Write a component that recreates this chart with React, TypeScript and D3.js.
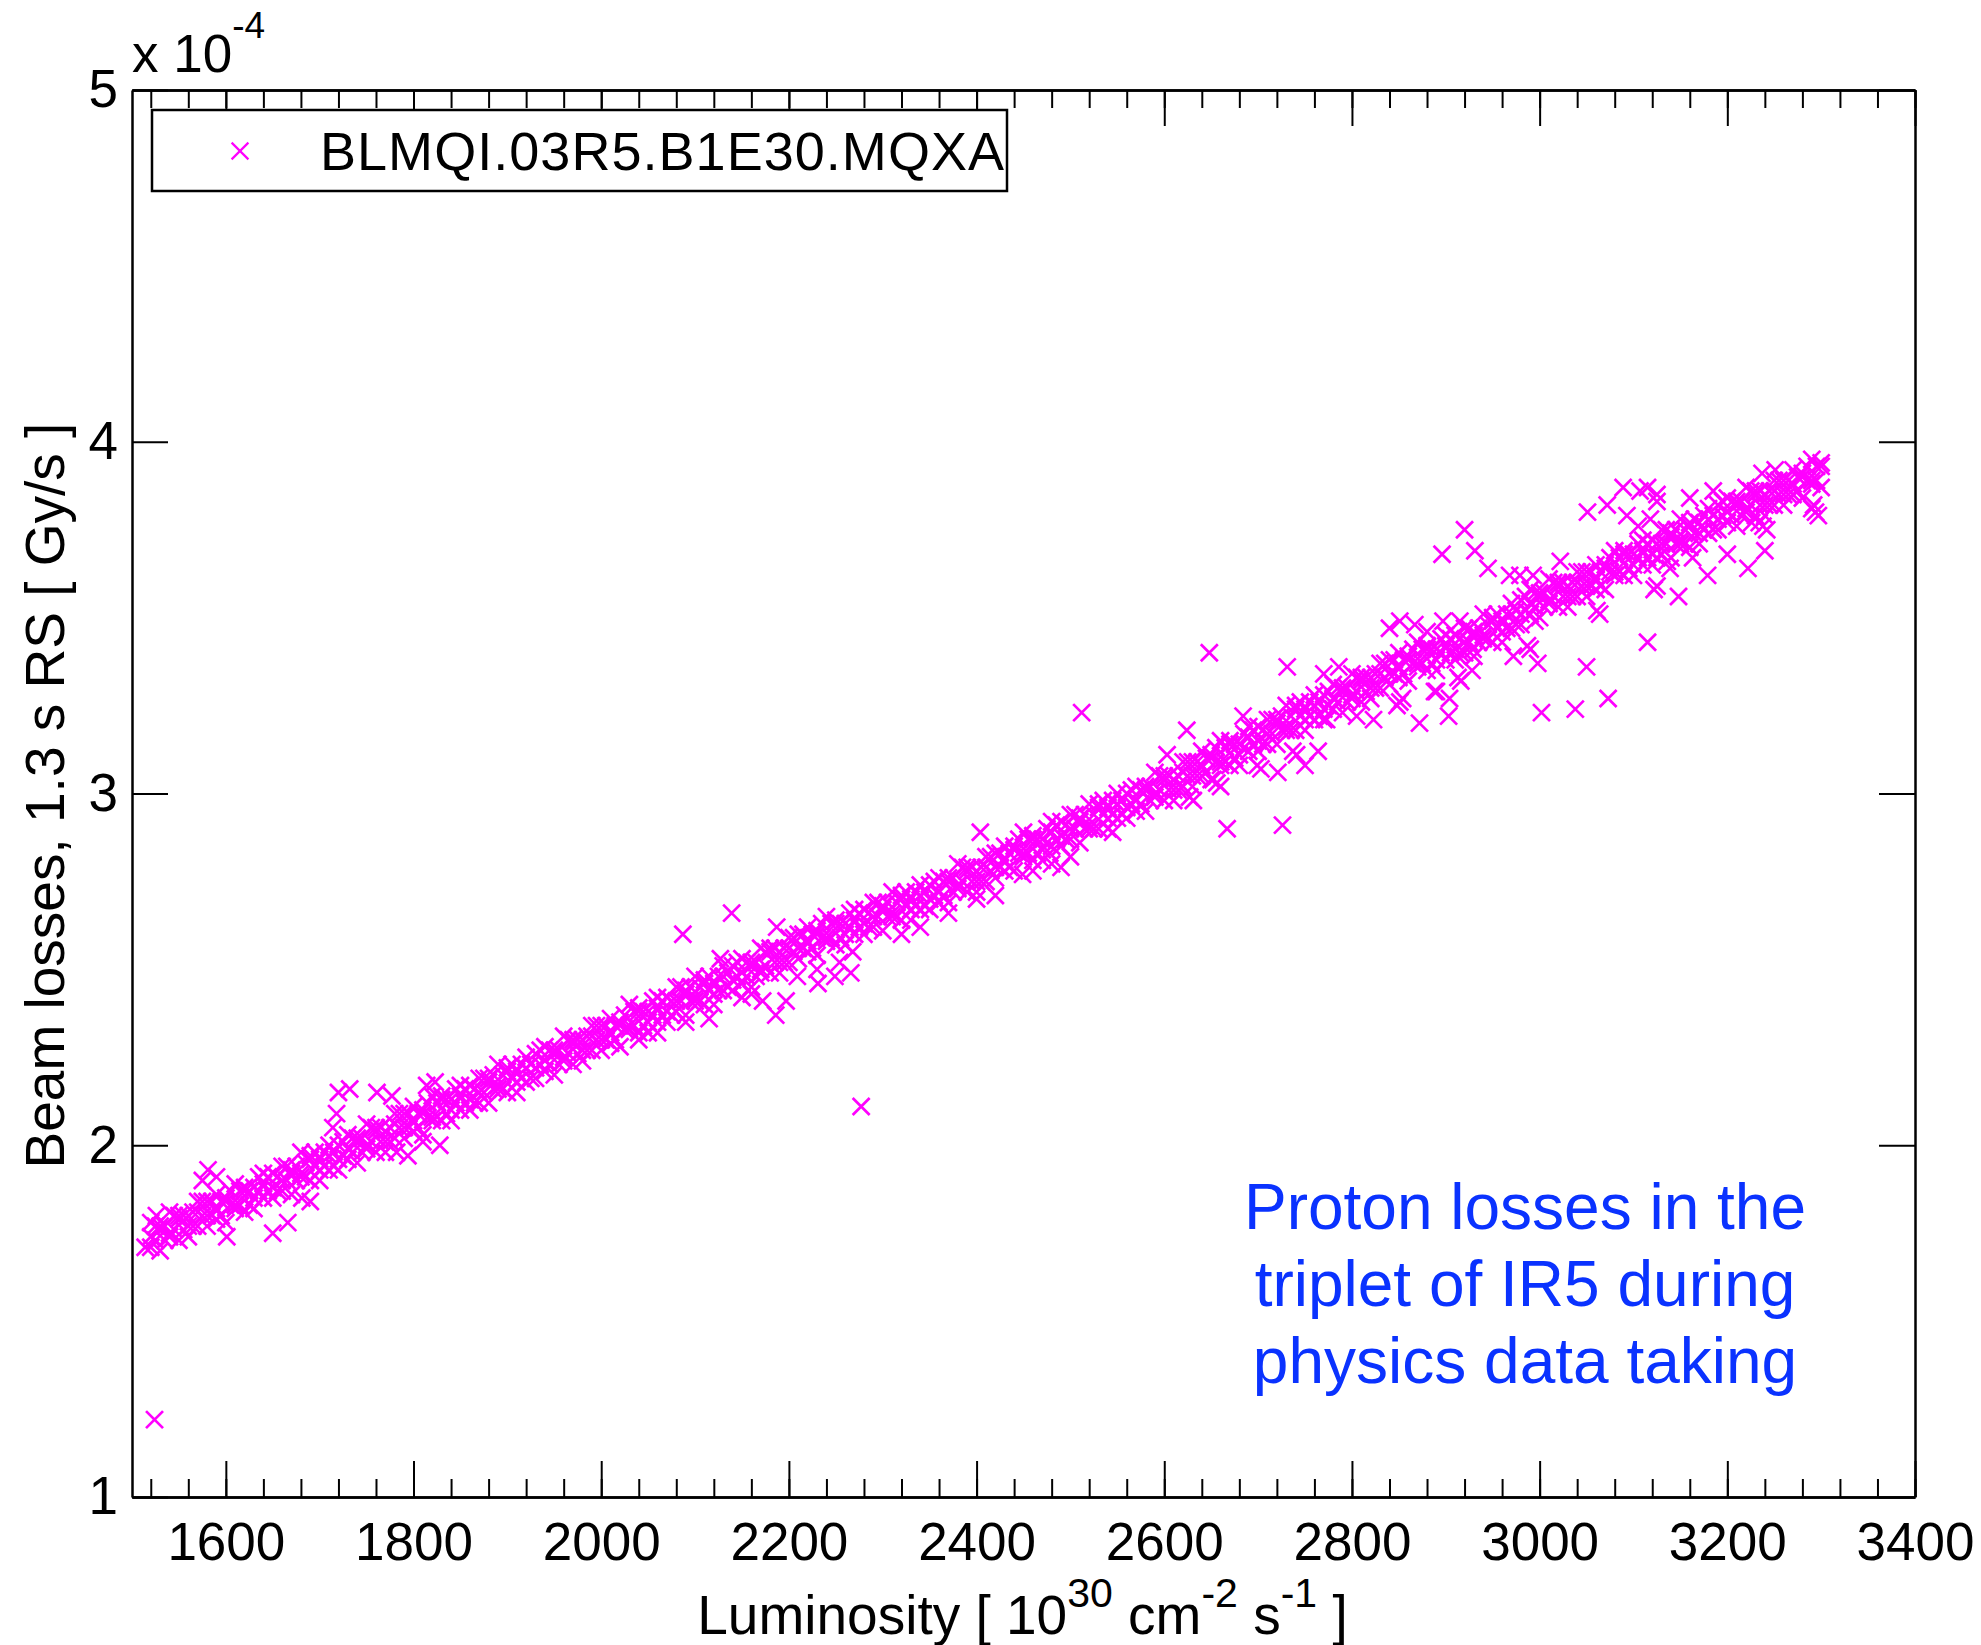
import React, { useEffect, useRef } from "react";
import * as d3 from "d3";

// luminosity axis (10^30 cm^-2 s^-1) and loss axis (x 10^-4 Gy/s)
const xTicks = [1600, 1800, 2000, 2200, 2400, 2600, 2800, 3000, 3200, 3400];
const yTicks = [1, 2, 3, 4, 5];
const seriesName = "BLMQI.03R5.B1E30.MQXA";
const noteLines = ["Proton losses in the", "triplet of IR5 during", "physics data taking"];

// dense band: [luminosity, upper edge, middle, lower edge]
const bandRows: [number, number, number, number][] = [
  [1520, 1.78, 1.74, 1.71], [1530, 1.77, 1.76, 1.70], [1540, 1.81, 1.75, 1.74], [1550, 1.80, 1.79, 1.73],
  [1560, 1.80, 1.77, 1.74], [1570, 1.84, 1.81, 1.77], [1580, 1.84, 1.80, 1.77], [1590, 1.86, 1.82, 1.79],
  [1600, 1.85, 1.84, 1.78], [1610, 1.89, 1.83, 1.82], [1620, 1.88, 1.87, 1.81], [1630, 1.88, 1.85, 1.82],
  [1640, 1.92, 1.89, 1.85], [1650, 1.92, 1.88, 1.85], [1660, 1.94, 1.90, 1.87], [1670, 1.93, 1.92, 1.86],
  [1680, 1.98, 1.92, 1.91], [1690, 1.97, 1.96, 1.90], [1700, 1.96, 1.93, 1.90], [1710, 2.00, 1.97, 1.93],
  [1720, 2.00, 1.96, 1.93], [1730, 2.03, 1.99, 1.96], [1740, 2.02, 2.01, 1.95], [1750, 2.06, 2.00, 1.99],
  [1760, 2.05, 2.04, 1.98], [1770, 2.04, 2.01, 1.98], [1780, 2.09, 2.06, 2.02], [1790, 2.09, 2.05, 2.02],
  [1800, 2.11, 2.07, 2.04], [1810, 2.10, 2.09, 2.03], [1820, 2.14, 2.08, 2.07], [1830, 2.14, 2.13, 2.07],
  [1840, 2.13, 2.10, 2.07], [1850, 2.17, 2.14, 2.10], [1860, 2.17, 2.13, 2.10], [1870, 2.19, 2.15, 2.12],
  [1880, 2.19, 2.18, 2.12], [1890, 2.23, 2.17, 2.16], [1900, 2.22, 2.21, 2.15], [1910, 2.21, 2.18, 2.15],
  [1920, 2.25, 2.22, 2.18], [1930, 2.26, 2.22, 2.19], [1940, 2.28, 2.24, 2.21], [1950, 2.27, 2.26, 2.20],
  [1960, 2.31, 2.25, 2.24], [1970, 2.30, 2.29, 2.23], [1980, 2.30, 2.27, 2.24], [1990, 2.34, 2.31, 2.27],
  [2000, 2.34, 2.30, 2.27], [2010, 2.36, 2.32, 2.29], [2020, 2.35, 2.34, 2.28], [2030, 2.40, 2.34, 2.33],
  [2040, 2.39, 2.38, 2.32], [2050, 2.38, 2.35, 2.32], [2060, 2.42, 2.39, 2.35], [2070, 2.42, 2.38, 2.35],
  [2080, 2.45, 2.41, 2.38], [2090, 2.44, 2.43, 2.37], [2100, 2.48, 2.42, 2.41], [2110, 2.47, 2.46, 2.40],
  [2120, 2.46, 2.43, 2.40], [2130, 2.51, 2.48, 2.44], [2140, 2.51, 2.47, 2.44], [2150, 2.53, 2.49, 2.46],
  [2160, 2.52, 2.51, 2.45], [2170, 2.56, 2.50, 2.49], [2180, 2.56, 2.55, 2.49], [2190, 2.55, 2.52, 2.49],
  [2200, 2.59, 2.56, 2.52], [2210, 2.60, 2.56, 2.53], [2220, 2.62, 2.58, 2.55], [2230, 2.61, 2.60, 2.54],
  [2240, 2.65, 2.59, 2.58], [2250, 2.64, 2.63, 2.57], [2260, 2.63, 2.60, 2.57], [2270, 2.67, 2.64, 2.60],
  [2280, 2.67, 2.63, 2.60], [2290, 2.69, 2.65, 2.62], [2300, 2.68, 2.67, 2.61], [2310, 2.72, 2.66, 2.65],
  [2320, 2.71, 2.70, 2.64], [2330, 2.70, 2.67, 2.64], [2340, 2.74, 2.71, 2.67], [2350, 2.74, 2.70, 2.67],
  [2360, 2.76, 2.72, 2.69], [2370, 2.76, 2.75, 2.69], [2380, 2.80, 2.74, 2.73], [2390, 2.79, 2.78, 2.72],
  [2400, 2.78, 2.75, 2.72], [2410, 2.82, 2.79, 2.75], [2420, 2.83, 2.79, 2.76], [2430, 2.85, 2.81, 2.78],
  [2440, 2.85, 2.84, 2.78], [2450, 2.89, 2.83, 2.82], [2460, 2.88, 2.87, 2.81], [2470, 2.87, 2.84, 2.81],
  [2480, 2.92, 2.89, 2.85], [2490, 2.92, 2.88, 2.85], [2500, 2.94, 2.90, 2.87], [2510, 2.93, 2.92, 2.86],
  [2520, 2.97, 2.91, 2.90], [2530, 2.97, 2.96, 2.90], [2540, 2.96, 2.93, 2.90], [2550, 3.00, 2.97, 2.93],
  [2560, 3.00, 2.96, 2.93], [2570, 3.02, 2.98, 2.95], [2580, 3.02, 3.01, 2.95], [2590, 3.06, 3.00, 2.99],
  [2600, 3.05, 3.04, 2.98], [2610, 3.04, 3.01, 2.98], [2620, 3.09, 3.06, 3.02], [2630, 3.09, 3.05, 3.02],
  [2640, 3.12, 3.08, 3.05], [2650, 3.11, 3.10, 3.04], [2660, 3.15, 3.09, 3.08], [2670, 3.15, 3.14, 3.08],
  [2680, 3.14, 3.11, 3.08], [2690, 3.19, 3.16, 3.12], [2700, 3.19, 3.15, 3.12], [2710, 3.21, 3.17, 3.14],
  [2720, 3.21, 3.20, 3.14], [2730, 3.25, 3.19, 3.18], [2740, 3.25, 3.24, 3.18], [2750, 3.24, 3.21, 3.18],
  [2760, 3.28, 3.25, 3.21], [2770, 3.28, 3.24, 3.21], [2780, 3.31, 3.27, 3.24], [2790, 3.30, 3.29, 3.23],
  [2800, 3.34, 3.28, 3.27], [2810, 3.33, 3.32, 3.26], [2820, 3.33, 3.30, 3.27], [2830, 3.37, 3.34, 3.30],
  [2840, 3.38, 3.34, 3.31], [2850, 3.40, 3.36, 3.33], [2860, 3.39, 3.38, 3.32], [2870, 3.43, 3.37, 3.36],
  [2880, 3.42, 3.41, 3.35], [2890, 3.41, 3.38, 3.35], [2900, 3.45, 3.42, 3.38], [2910, 3.45, 3.41, 3.38],
  [2920, 3.47, 3.43, 3.40], [2930, 3.46, 3.45, 3.39], [2940, 3.51, 3.45, 3.44], [2950, 3.50, 3.49, 3.43],
  [2960, 3.49, 3.46, 3.43], [2970, 3.54, 3.51, 3.47], [2980, 3.55, 3.51, 3.48], [2990, 3.58, 3.54, 3.51],
  [3000, 3.57, 3.56, 3.50], [3010, 3.61, 3.55, 3.54], [3020, 3.60, 3.59, 3.53], [3030, 3.59, 3.56, 3.53],
  [3040, 3.63, 3.60, 3.56], [3050, 3.63, 3.59, 3.56], [3060, 3.65, 3.61, 3.58], [3070, 3.65, 3.64, 3.58],
  [3080, 3.69, 3.63, 3.62], [3090, 3.69, 3.68, 3.62], [3100, 3.68, 3.65, 3.62], [3110, 3.72, 3.69, 3.65],
  [3120, 3.72, 3.68, 3.65], [3130, 3.75, 3.71, 3.68], [3140, 3.74, 3.73, 3.67], [3150, 3.78, 3.72, 3.71],
  [3160, 3.77, 3.76, 3.70], [3170, 3.77, 3.74, 3.71], [3180, 3.81, 3.78, 3.74], [3190, 3.82, 3.78, 3.75],
  [3200, 3.84, 3.80, 3.77], [3210, 3.83, 3.82, 3.76], [3220, 3.87, 3.81, 3.80], [3230, 3.86, 3.85, 3.79],
  [3240, 3.85, 3.82, 3.79], [3250, 3.89, 3.86, 3.82], [3260, 3.89, 3.85, 3.82], [3270, 3.92, 3.88, 3.85],
  [3280, 3.91, 3.90, 3.84], [3290, 3.95, 3.89, 3.88], [3300, 3.94, 3.93, 3.87],
];

// band readings taken between the rows above: [luminosity, upper, lower]
const bandRowsBetween: [number, number, number][] = [
  [1525, 1.77, 1.73], [1535, 1.77, 1.73], [1545, 1.80, 1.76], [1555, 1.80, 1.76], [1565, 1.81, 1.77],
  [1575, 1.84, 1.80], [1585, 1.84, 1.80], [1595, 1.84, 1.80], [1605, 1.87, 1.83], [1615, 1.87, 1.83],
  [1625, 1.87, 1.83], [1635, 1.91, 1.87], [1645, 1.91, 1.87], [1655, 1.91, 1.87], [1665, 1.94, 1.90],
  [1675, 1.94, 1.90], [1685, 1.95, 1.91], [1695, 1.98, 1.94], [1705, 1.98, 1.94], [1715, 1.98, 1.94],
  [1725, 2.01, 1.97], [1735, 2.02, 1.98], [1745, 2.02, 1.98], [1755, 2.05, 2.01], [1765, 2.05, 2.01],
  [1775, 2.05, 2.01], [1785, 2.09, 2.05], [1795, 2.09, 2.05], [1805, 2.09, 2.05], [1815, 2.12, 2.08],
  [1825, 2.12, 2.08], [1835, 2.13, 2.09], [1845, 2.16, 2.12], [1855, 2.16, 2.12], [1865, 2.16, 2.12],
  [1875, 2.19, 2.15], [1885, 2.20, 2.16], [1895, 2.20, 2.16], [1905, 2.23, 2.19], [1915, 2.23, 2.19],
  [1925, 2.23, 2.19], [1935, 2.27, 2.23], [1945, 2.27, 2.23], [1955, 2.27, 2.23], [1965, 2.30, 2.26],
  [1975, 2.30, 2.26], [1985, 2.31, 2.27], [1995, 2.34, 2.30], [2005, 2.34, 2.30], [2015, 2.34, 2.30],
  [2025, 2.37, 2.33], [2035, 2.38, 2.34], [2045, 2.38, 2.34], [2055, 2.41, 2.37], [2065, 2.41, 2.37],
  [2075, 2.41, 2.37], [2085, 2.45, 2.41], [2095, 2.45, 2.41], [2105, 2.45, 2.41], [2115, 2.48, 2.44],
  [2125, 2.48, 2.44], [2135, 2.49, 2.45], [2145, 2.52, 2.48], [2155, 2.52, 2.48], [2165, 2.52, 2.48],
  [2175, 2.55, 2.51], [2185, 2.56, 2.52], [2195, 2.56, 2.52], [2205, 2.59, 2.55], [2215, 2.60, 2.56],
  [2225, 2.60, 2.56], [2235, 2.63, 2.59], [2245, 2.63, 2.59], [2255, 2.63, 2.59], [2265, 2.66, 2.62],
  [2275, 2.66, 2.62], [2285, 2.66, 2.62], [2295, 2.69, 2.65], [2305, 2.69, 2.65], [2315, 2.69, 2.65],
  [2325, 2.72, 2.68], [2335, 2.72, 2.68], [2345, 2.72, 2.68], [2355, 2.75, 2.71], [2365, 2.75, 2.71],
  [2375, 2.76, 2.72], [2385, 2.79, 2.75], [2395, 2.79, 2.75], [2405, 2.79, 2.75], [2415, 2.82, 2.78],
  [2425, 2.83, 2.79], [2435, 2.83, 2.79], [2445, 2.87, 2.83], [2455, 2.87, 2.83], [2465, 2.87, 2.83],
  [2475, 2.90, 2.86], [2485, 2.91, 2.87], [2495, 2.91, 2.87], [2505, 2.94, 2.90], [2515, 2.94, 2.90],
  [2525, 2.94, 2.90], [2535, 2.98, 2.94], [2545, 2.98, 2.94], [2555, 2.98, 2.94], [2565, 3.01, 2.97],
  [2575, 3.01, 2.97], [2585, 3.02, 2.98], [2595, 3.05, 3.01], [2605, 3.05, 3.01], [2615, 3.05, 3.01],
  [2625, 3.09, 3.05], [2635, 3.09, 3.05], [2645, 3.10, 3.06], [2655, 3.13, 3.09], [2665, 3.13, 3.09],
  [2675, 3.14, 3.10], [2685, 3.17, 3.13], [2695, 3.18, 3.14], [2705, 3.18, 3.14], [2715, 3.21, 3.17],
  [2725, 3.22, 3.18], [2735, 3.22, 3.18], [2745, 3.26, 3.22], [2755, 3.26, 3.22], [2765, 3.26, 3.22],
  [2775, 3.29, 3.25], [2785, 3.30, 3.26], [2795, 3.30, 3.26], [2805, 3.33, 3.29], [2815, 3.33, 3.29],
  [2825, 3.34, 3.30], [2835, 3.37, 3.33], [2845, 3.38, 3.34], [2855, 3.38, 3.34], [2865, 3.41, 3.37],
  [2875, 3.41, 3.37], [2885, 3.41, 3.37], [2895, 3.44, 3.40], [2905, 3.44, 3.40], [2915, 3.44, 3.40],
  [2925, 3.47, 3.43], [2935, 3.47, 3.43], [2945, 3.48, 3.44], [2955, 3.51, 3.47], [2965, 3.51, 3.47],
  [2975, 3.52, 3.48], [2985, 3.56, 3.52], [2995, 3.57, 3.53], [3005, 3.57, 3.53], [3015, 3.60, 3.56],
  [3025, 3.60, 3.56], [3035, 3.60, 3.56], [3045, 3.63, 3.59], [3055, 3.63, 3.59], [3065, 3.63, 3.59],
  [3075, 3.67, 3.63], [3085, 3.67, 3.63], [3095, 3.68, 3.64], [3105, 3.71, 3.67], [3115, 3.71, 3.67],
  [3125, 3.71, 3.67], [3135, 3.75, 3.71], [3145, 3.75, 3.71], [3155, 3.75, 3.71], [3165, 3.78, 3.74],
  [3175, 3.79, 3.75], [3185, 3.79, 3.75], [3195, 3.83, 3.79], [3205, 3.83, 3.79], [3215, 3.83, 3.79],
  [3225, 3.86, 3.82], [3235, 3.86, 3.82], [3245, 3.86, 3.82], [3255, 3.89, 3.85], [3265, 3.89, 3.85],
  [3275, 3.90, 3.86], [3285, 3.93, 3.89], [3295, 3.93, 3.89],
];

// scattered points away from the band: [luminosity, loss]
const scatterPoints: [number, number][] = [
  [1524, 1.22], [1514, 1.71], [1526, 1.80], [1601, 1.74], [1650, 1.75], [1666, 1.78], [1690, 1.84],
  [1681, 1.85], [1581, 1.93], [1575, 1.90], [1590, 1.91], [1720, 2.15], [1732, 2.16], [1761, 2.15],
  [1777, 2.14], [1718, 2.09], [1714, 2.05], [1814, 2.17], [1823, 2.18], [1828, 2.00], [1810, 2.01],
  [1794, 1.97], [1782, 1.98],
  [2087, 2.60], [2139, 2.66], [2187, 2.62], [2404, 2.89], [2277, 2.11], [2115, 2.36], [2172, 2.41],
  [2186, 2.37], [2197, 2.41], [2209, 2.48], [2231, 2.46], [2249, 2.48], [2266, 2.49], [2268, 2.55],
  [2254, 2.52], [2127, 2.53], [2040, 2.30], [2060, 2.32], [2090, 2.35], [2150, 2.42], [2160, 2.43],
  [2230, 2.50], [2320, 2.60], [2340, 2.62], [2370, 2.66], [2400, 2.70], [2420, 2.71], [2460, 2.78],
  [2480, 2.80], [2490, 2.79], [2500, 2.82],
  [2512, 3.23], [2648, 3.40], [2624, 3.18], [2603, 3.11], [2684, 3.22], [2667, 2.90], [2726, 2.91],
  [2731, 3.36], [2770, 3.34], [2786, 3.36], [2764, 3.12], [2750, 3.08], [2721, 3.06], [2656, 3.03],
  [2660, 3.02], [2652, 3.04], [2699, 3.08], [2703, 3.07], [2737, 3.12], [2741, 3.11], [2773, 3.21],
  [2805, 3.22], [2823, 3.21], [2872, 3.20], [2903, 3.22], [2890, 3.29], [2854, 3.27], [2545, 2.89],
  [2627, 2.99], [2631, 2.98], [2449, 2.77], [2478, 2.83],
  [2920, 3.75], [2896, 3.68], [2931, 3.69], [2945, 3.64], [2968, 3.62], [2979, 3.62], [2993, 3.62],
  [3022, 3.66], [3051, 3.80], [3072, 3.82], [3089, 3.87], [3107, 3.86], [3115, 3.87], [3125, 3.85],
  [3093, 3.79], [3118, 3.78], [3125, 3.83], [3105, 3.76], [3160, 3.84], [3185, 3.86], [3237, 3.91],
  [3251, 3.92], [3226, 3.77], [3238, 3.76], [3242, 3.75], [3234, 3.77], [3290, 3.81], [3294, 3.80],
  [3297, 3.79], [3292, 3.82], [3240, 3.69], [3222, 3.64], [3200, 3.68], [3179, 3.62], [3163, 3.67],
  [3139, 3.64], [3136, 3.66], [3148, 3.56], [3122, 3.58], [3125, 3.59], [3115, 3.43], [3073, 3.27],
  [3038, 3.24], [3002, 3.23], [3050, 3.36], [3061, 3.52], [3064, 3.51], [2998, 3.37], [2972, 3.39],
  [2987, 3.42], [2990, 3.41], [2995, 3.49], [2888, 3.29], [2904, 3.27], [2913, 3.33], [2916, 3.32],
  [2928, 3.35], [2851, 3.26], [2848, 3.25], [2840, 3.47], [2851, 3.49], [2867, 3.48], [2880, 3.46],
  [2897, 3.49], [2915, 3.49], [2929, 3.41], [2913, 3.39],
];

const FONT = "'Liberation Sans', Arial, Helvetica, sans-serif";
const MAGENTA = "#ff00ff";
const BLUE = "#0a32ff";

function crossPath(cx: number, cy: number, h: number) {
  return `M${cx - h},${cy - h}L${cx + h},${cy + h}M${cx - h},${cy + h}L${cx + h},${cy - h}`;
}

function BeamLossPlot() {
  const svgRef = useRef<SVGSVGElement>(null);

  useEffect(() => {
    const width = 1981;
    const height = 1645;
    const left = 132;
    const right = 1915;
    const top = 90;
    const bottom = 1497;

    const svg = d3.select(svgRef.current).attr("width", width).attr("height", height);
    svg.selectAll("*").remove();

    const x = d3.scaleLinear().domain([1500, 3400]).range([left, right]);
    const y = d3.scaleLinear().domain([1, 5]).range([bottom, top]);

    const points: [number, number][] = bandRows
      .flatMap(([l, a, b, c]) => [[l, a], [l, b], [l, c]] as [number, number][])
      .concat(bandRowsBetween.flatMap(([l, a, b]) => [[l, a], [l, b]] as [number, number][]))
      .concat(scatterPoints);

    // data
    svg
      .append("g")
      .selectAll("path")
      .data(points)
      .join("path")
      .attr("d", (d) => crossPath(x(d[0]), y(d[1]), 8.5))
      .attr("fill", "none")
      .attr("stroke", MAGENTA)
      .attr("stroke-width", 2.7);

    const minor = d3.range(1520, 3401, 40);

    const styleAxis = (g: any) => {
      g.selectAll("line").attr("stroke", "#000").attr("stroke-width", 2);
      g.selectAll("path").attr("stroke", "#000").attr("stroke-width", 2.5);
      g.selectAll("text")
        .attr("fill", "#000")
        .style("font-family", FONT)
        .style("font-size", "53px");
    };

    // bottom
    svg
      .append("g")
      .attr("transform", `translate(0,${bottom})`)
      .call(d3.axisBottom(x).tickValues(minor).tickSizeInner(-18).tickSizeOuter(0).tickFormat(() => ""))
      .call(styleAxis);
    svg
      .append("g")
      .attr("transform", `translate(0,${bottom})`)
      .call(
        d3.axisBottom(x).tickValues(xTicks).tickSizeInner(-36).tickSizeOuter(0).tickPadding(25).tickFormat(d3.format("d"))
      )
      .call(styleAxis);

    // top
    svg
      .append("g")
      .attr("transform", `translate(0,${top})`)
      .call(d3.axisTop(x).tickValues(minor).tickSizeInner(-18).tickSizeOuter(0).tickFormat(() => ""))
      .call(styleAxis);
    svg
      .append("g")
      .attr("transform", `translate(0,${top})`)
      .call(d3.axisTop(x).tickValues(xTicks).tickSizeInner(-36).tickSizeOuter(0).tickFormat(() => ""))
      .call(styleAxis);

    // left
    svg
      .append("g")
      .attr("transform", `translate(${left},0)`)
      .call(d3.axisLeft(y).tickValues(yTicks).tickSizeInner(-36).tickSizeOuter(0).tickPadding(14).tickFormat(d3.format("d")))
      .call(styleAxis);

    // right
    svg
      .append("g")
      .attr("transform", `translate(${right},0)`)
      .call(d3.axisRight(y).tickValues(yTicks).tickSizeInner(-36).tickSizeOuter(0).tickFormat(() => ""))
      .call(styleAxis);

    // exponent of y axis
    const expo = svg.append("text").attr("x", left).attr("y", 72).style("font-family", FONT).style("font-size", "53px");
    expo.append("tspan").text("x 10");
    expo.append("tspan").attr("dy", -34).style("font-size", "37px").text("-4");

    // axis titles
    const xl = svg
      .append("text")
      .attr("x", (left + right) / 2 - 1)
      .attr("y", 1634)
      .attr("text-anchor", "middle")
      .style("font-family", FONT)
      .style("font-size", "55px");
    xl.append("tspan").text("Luminosity [ 10");
    xl.append("tspan").attr("dy", -27).style("font-size", "41px").text("30");
    xl.append("tspan").attr("dy", 27).text(" cm");
    xl.append("tspan").attr("dy", -27).style("font-size", "41px").text("-2");
    xl.append("tspan").attr("dy", 27).text(" s");
    xl.append("tspan").attr("dy", -27).style("font-size", "41px").text("-1");
    xl.append("tspan").attr("dy", 27).text(" ]");

    svg
      .append("text")
      .attr("transform", `translate(64,${(top + bottom) / 2 + 2}) rotate(-90)`)
      .attr("text-anchor", "middle")
      .style("font-family", FONT)
      .style("font-size", "55px")
      .text("Beam losses, 1.3 s RS [ Gy/s ]");

    // legend
    const legend = svg.append("g");
    legend
      .append("rect")
      .attr("x", 152)
      .attr("y", 110)
      .attr("width", 855)
      .attr("height", 81)
      .attr("fill", "#fff")
      .attr("stroke", "#000")
      .attr("stroke-width", 2.5);
    legend
      .append("path")
      .attr("d", crossPath(240, 151, 8.4))
      .attr("fill", "none")
      .attr("stroke", MAGENTA)
      .attr("stroke-width", 2.2);
    legend
      .append("text")
      .attr("x", 320)
      .attr("y", 170)
      .attr("textLength", 684)
      .style("font-family", FONT)
      .style("font-size", "54px")
      .text(seriesName);

    // annotation
    svg
      .append("g")
      .selectAll("text")
      .data(noteLines)
      .join("text")
      .attr("x", 1525)
      .attr("y", (_d, i) => 1229 + i * 77)
      .attr("text-anchor", "middle")
      .attr("fill", BLUE)
      .style("font-family", FONT)
      .style("font-size", "64px")
      .text((d) => d);
  }, []);

  return <svg ref={svgRef} style={{ position: "absolute", left: 0, top: 0, background: "#fff" }}></svg>;
}

export default function App() {
  return <BeamLossPlot />;
}
